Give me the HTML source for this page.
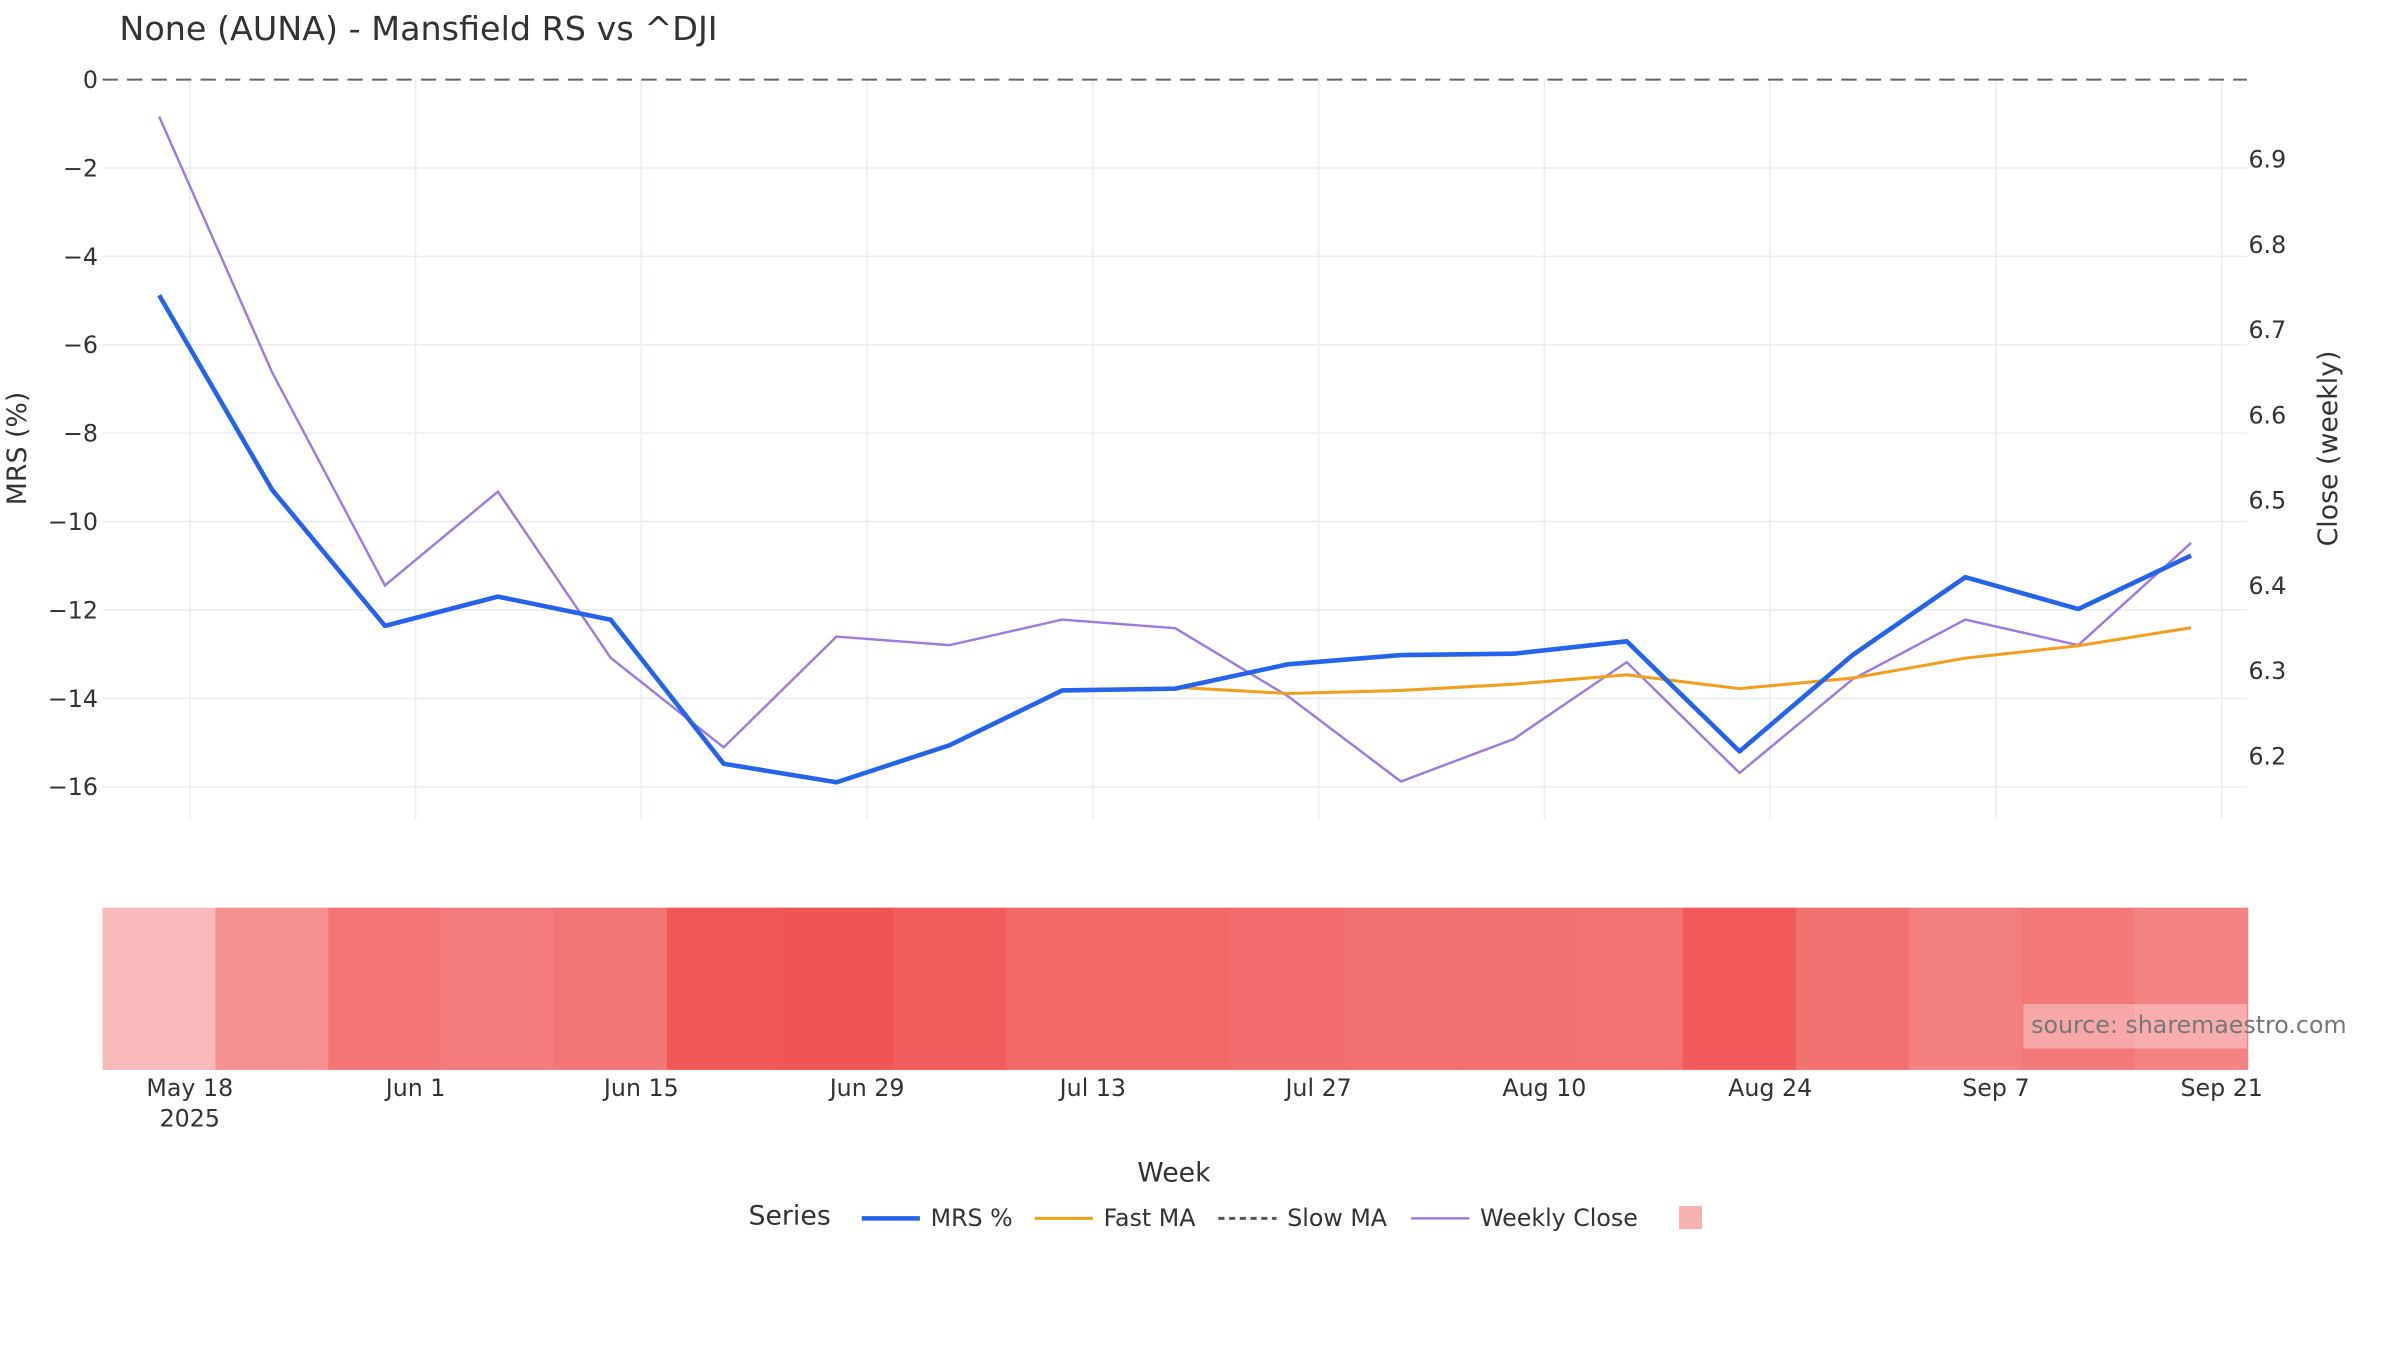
<!DOCTYPE html>
<html><head><meta charset="utf-8"><style>
html,body{margin:0;padding:0;background:#fff;}
svg{display:block;font-family:"DejaVu Sans","Liberation Sans",sans-serif;}
</style></head><body>
<svg id="chart" width="2400" height="1350" viewBox="0 0 1568 882" xmlns="http://www.w3.org/2000/svg">
<rect width="1568" height="882" fill="#fff"/>
<text x="78" y="26" font-size="21.8" fill="#333">None (AUNA) - Mansfield RS vs ^DJI</text>
<g id="grid"></g>
<g id="heat"></g>
<g id="series"></g>
<g id="axes"></g>
<text transform="translate(17,293) rotate(-90)" text-anchor="middle" font-size="17.5" fill="#333">MRS (%)</text>
<text transform="translate(1527,293) rotate(-90)" text-anchor="middle" font-size="17.5" fill="#333">Close (weekly)</text>
<text x="767" y="772" text-anchor="middle" font-size="17.5" fill="#333">Week</text>
<rect x="1322" y="656" width="146" height="29" fill="#fff" fill-opacity="0.35"/>
<text x="1327" y="675" font-size="15.5" fill="#777">source: sharemaestro.com</text>
<g>
<text x="489" y="800" font-size="17.5" fill="#333">Series</text>
<g><line x1="563" y1="796" x2="601" y2="796" stroke="#2563eb" stroke-width="3"/><text x="608" y="801" font-size="15.5" fill="#333">MRS %</text></g>
<g><line x1="676" y1="796" x2="714" y2="796" stroke="#f0a01e" stroke-width="2"/><text x="721" y="801" font-size="15.5" fill="#333">Fast MA</text></g>
<g><line x1="796" y1="796" x2="834" y2="796" stroke="#555" stroke-width="2" stroke-dasharray="4,3"/><text x="841" y="801" font-size="15.5" fill="#333">Slow MA</text></g>
<g><line x1="922" y1="796" x2="960" y2="796" stroke="#9e7be0" stroke-width="1.6"/><text x="967" y="801" font-size="15.5" fill="#333">Weekly Close</text></g>
<rect x="1097" y="788" width="15" height="15" fill="#f6b0b0"/>
</g>
</svg>
<script>
const mrs=[-4.88,-9.28,-12.36,-11.7,-12.22,-15.48,-15.9,-15.06,-13.82,-13.78,-13.23,-13.02,-12.99,-12.71,-15.2,-13.02,-11.26,-11.98,-10.77];
const fastMA=[null,null,null,null,null,null,null,null,null,-13.75,-13.89,-13.82,-13.68,-13.47,-13.78,-13.54,-13.09,-12.81,-12.40];
const weeklyClose=[6.95,6.65,6.40,6.51,6.315,6.21,6.34,6.33,6.36,6.35,6.27,6.17,6.22,6.31,6.18,6.29,6.36,6.33,6.45];
const xTickLabels=["May 18","Jun 1","Jun 15","Jun 29","Jul 13","Jul 27","Aug 10","Aug 24","Sep 7","Sep 21"];
const yTicks=[0,-2,-4,-6,-8,-10,-12,-14,-16];
const y2Ticks=[6.2,6.3,6.4,6.5,6.6,6.7,6.8,6.9];

const NS="http://www.w3.org/2000/svg";
const L=67,R=1468,T=52,B=535;
const wk=73.75;
const xi=i=>104+i*wk;
const xw=w=>124+w*wk;
const y=v=>52-v*28.875;
const y2=v=>104+(6.9-v)*557;
function mk(tag,attrs,parent){const e=document.createElementNS(NS,tag);for(const k in attrs)e.setAttribute(k,attrs[k]);parent.appendChild(e);return e;}
const grid=document.getElementById('grid'),axes=document.getElementById('axes'),series=document.getElementById('series'),heat=document.getElementById('heat');

yTicks.forEach(v=>{
  if(v!==0){const g=mk('line',{x1:L,x2:R,y1:y(v),y2:y(v),stroke:'#e8edf2','stroke-width':1},grid);
  
  }
  const t=mk('text',{x:64,y:y(v)+5.5,'text-anchor':'end','font-size':15.5,fill:'#333'},axes);
  t.textContent=v===0?'0':'\u2212'+Math.abs(v);
  
  
});
y2Ticks.forEach(v=>{
  const t=mk('text',{x:1469,y:y2(v)+5.5,'font-size':15.5,fill:'#333'},axes);
  t.textContent=v.toFixed(1);
  
  
});
xTickLabels.forEach((lab,k)=>{
  const x=xw(k*2);
  const g=mk('line',{x1:x,x2:x,y1:T,y2:B,stroke:'#e8edf2','stroke-width':1},grid);
  
  
  const t=mk('text',{x:x,y:716,'text-anchor':'middle','font-size':15.5,fill:'#333'},axes);
  t.textContent=lab;
  
  
});
const yr=mk('text',{x:xw(0),y:736,'text-anchor':'middle','font-size':15.5,fill:'#333'},axes);
yr.textContent='2025';


const zl=mk('line',{x1:L,x2:R,y1:y(0),y2:y(0),stroke:'#666','stroke-width':1.3,'stroke-dasharray':'10,6'},grid);



const vmax=Math.max(...mrs),vmin=Math.min(...mrs);
mrs.forEach((v,i)=>{
  const t=(vmax-v)/(vmax-vmin);
  const r=Math.round(248-8*t),g=Math.round(186-102*t);
  const c=mk('rect',{x:L+i*wk,y:593,width:wk+0.6,height:106,fill:`rgb(${r},${g},${g})`},heat);
  
  
});

function path(vals,fy){let d='';vals.forEach((v,i)=>{if(v==null)return;d+=(d?'L':'M')+xi(i).toFixed(1)+','+fy(v).toFixed(1);});return d;}
const pc=mk('path',{d:path(weeklyClose,y2),fill:'none',stroke:'#9e7be0','stroke-width':1.6},series);


const pf=mk('path',{d:path(fastMA,y),fill:'none',stroke:'#f0a01e','stroke-width':2},series);


const pm=mk('path',{d:path(mrs,y),fill:'none',stroke:'#2563eb','stroke-width':3,'stroke-linejoin':'round'},series);


</script>
</body></html>
